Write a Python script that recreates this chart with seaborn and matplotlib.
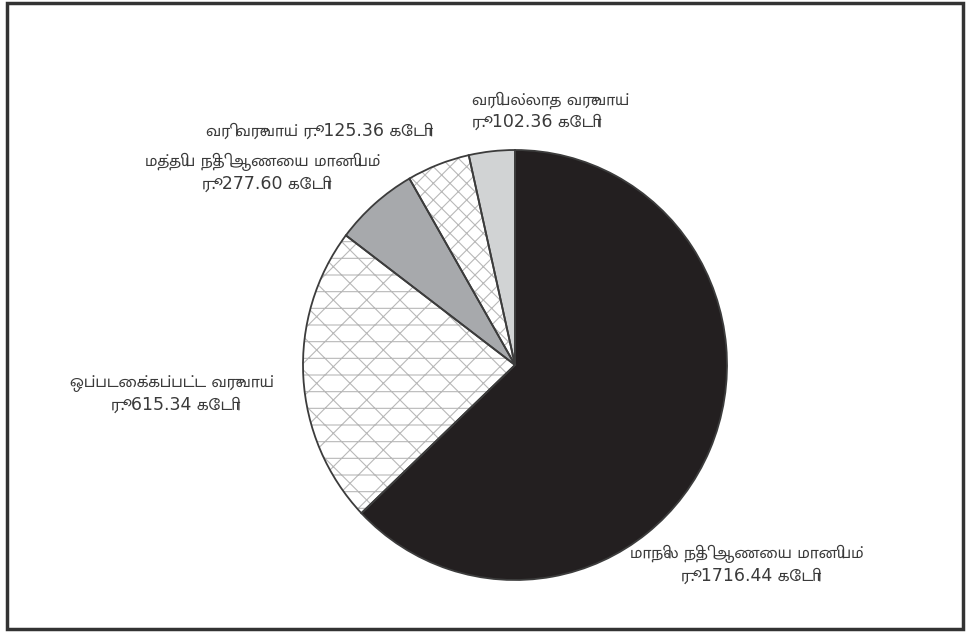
import matplotlib
matplotlib.use("Agg")
import matplotlib.pyplot as plt
from matplotlib.patches import Rectangle
import seaborn as sns

# revenue sources, crore rupees (clockwise from the top)
sources = ["மாநில நிதி ஆணைய மானியம்", "ஒப்படைக்கப்பட்ட வருவாய்",
           "மத்திய நிதி ஆணைய மானியம்", "வரி வருவாய்", "வரியல்லாத வருவாய்"]
amounts = [1716.44, 615.34, 277.60, 125.36, 102.36]
amount_text = ["1716.44", "615.34", "277.60", "125.36", "102.36"]
# slice sizes as drawn in the original (% of the circle)
slice_share = [62.9, 22.4, 6.4, 4.8, 3.5]

fills = ["#231f20", "white", "#a7a9ac", "white", "#d1d3d4"]
hatches = [None, "/\\-", None, "xx", None]

sns.set_theme(style="white")
tamil = ["DejaVu Sans", "Mukta Malar"]
plt.rcParams["font.family"] = tamil
plt.rcParams["hatch.linewidth"] = 0.8

fig = plt.figure(figsize=(9.69, 6.35), dpi=100)
ax = fig.add_axes([0, 0, 1, 1])

# pixel layout of the original: centre (515, 365), radii 212 x 215
cx, cy, rx, ry = 515, 365, 212, 215


def px(x, y):
    return (x - cx) / rx, (cy - y) / ry


# fills + hatch lines
wedges, _ = ax.pie(slice_share, colors=fills, startangle=90, counterclock=False,
                   wedgeprops=dict(edgecolor="#b8b8b8", linewidth=0))
for w, h in zip(wedges, hatches):
    if h:
        w.set_hatch(h)
# outlines
ax.pie(slice_share, colors=["none"] * 5, startangle=90, counterclock=False,
       wedgeprops=dict(edgecolor="#3c3c3c", linewidth=1.3, facecolor="none"))

ax.set_aspect("auto")
ax.set_xlim(px(0, 0)[0], px(969, 0)[0])
ax.set_ylim(px(0, 635)[1], px(0, 0)[1])
ax.axis("off")

txt = dict(fontsize=12.5, color="#3a3a3a", linespacing=1.3, family=tamil)
lbl = [s + "\nரூ. " + a + " கோடி" for s, a in zip(sources, amount_text)]
ax.text(*px(747, 565), lbl[0], ha="center", va="center", **txt)
ax.text(*px(172, 394), lbl[1], ha="center", va="center", **txt)
ax.text(*px(263, 173), lbl[2], ha="center", va="center", **txt)
ax.text(*px(315, 131), sources[3] + " ரூ. " + amount_text[3] + " கோடி",
        ha="center", va="center", **txt)
ax.text(*px(472, 111), lbl[4], ha="left", va="center", **txt)

fig.add_artist(Rectangle((7 / 969, 1 - 629 / 635), 956 / 969, 626 / 635,
                         transform=fig.transFigure, fill=False,
                         linewidth=2.5, edgecolor="#333333"))

fig.savefig("out.png", dpi=100)
